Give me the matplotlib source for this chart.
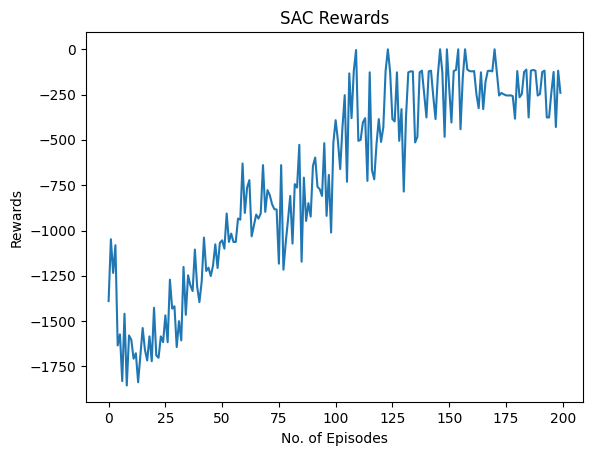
#!/usr/bin/env python3
"""SAC training curve: reward per episode."""

from __future__ import annotations

import matplotlib

matplotlib.use("Agg")
import matplotlib.pyplot as plt


# rewards, one per episode (0..199)
rewards_0_49 = [
    -1389, -1048, -1234, -1081, -1634, -1573, -1831, -1459, -1855, -1579,
    -1603, -1707, -1677, -1837, -1690, -1538, -1658, -1717, -1584, -1721,
    -1426, -1689, -1702, -1584, -1616, -1468, -1616, -1271, -1431, -1418,
    -1643, -1500, -1606, -1201, -1465, -1247, -1302, -1334, -1105, -1309,
    -1395, -1281, -1039, -1223, -1205, -1251, -1192, -1076, -1207, -1068,
]
rewards_50_99 = [
    -1054, -1100, -906, -1063, -1017, -1063, -1063, -934, -940, -630,
    -903, -763, -722, -1032, -971, -912, -934, -906, -639, -897,
    -777, -805, -855, -882, -884, -1183, -639, -1216, -1068, -943,
    -809, -1072, -744, -763, -527, -1172, -708, -947, -849, -923,
    -643, -597, -759, -772, -809, -518, -919, -693, -1011, -514,
]
rewards_100_149 = [
    -391, -505, -661, -431, -253, -731, -133, -380, -118, -4,
    -505, -500, -404, -380, -726, -127, -667, -717, -523, -385,
    -511, -430, -120, 0, -125, -385, -398, -127, -505, -330,
    -785, -370, -127, -122, -122, -514, -483, -127, -118, -247,
    -376, -122, -118, -260, -385, -146, 0, -127, -483, 0,
]
rewards_150_199 = [
    -210, -404, -120, -114, 0, -441, -155, 0, -112, -120,
    -122, -120, -247, -325, -127, -330, -180, -120, -118, -122,
    0, -126, -255, -241, -248, -254, -255, -254, -258, -383,
    -120, -265, -247, -125, -112, -376, -118, -114, -118, -255,
    -247, -125, -118, -376, -376, -240, -125, -429, -118, -240,
]

rewards = rewards_0_49 + rewards_50_99 + rewards_100_149 + rewards_150_199
episodes = list(range(len(rewards)))


def main() -> None:
    fig = plt.figure(figsize=(5.92, 4.55), dpi=100)
    fig.subplots_adjust(left=0.1453, right=0.9848, top=0.9286, bottom=0.1158)
    ax = fig.add_subplot(111)
    ax.plot(episodes, rewards)
    ax.set_title("SAC Rewards")
    ax.set_xlabel("No. of Episodes")
    ax.set_ylabel("Rewards")
    fig.savefig("out.png", dpi=100)
    plt.close(fig)


if __name__ == "__main__":
    main()
